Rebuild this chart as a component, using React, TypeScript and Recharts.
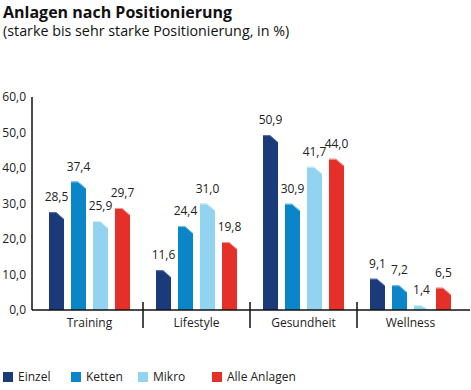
import React from 'react';
import { BarChart, Bar, XAxis, YAxis, LabelList } from 'recharts';

const categories = ['Training', 'Lifestyle', 'Gesundheit', 'Wellness'];
const einzel = [28.5, 11.6, 50.9, 9.1];
const ketten = [37.4, 24.4, 30.9, 7.2];
const mikro = [25.9, 31.0, 41.7, 1.4];
const alleAnlagen = [29.7, 19.8, 44.0, 6.5];
const yTicks = [0, 10, 20, 30, 40, 50, 60];

const series = [
  { key: 'Einzel', values: einzel, color: '#1b3a7a', light: '#5a74a8' },
  { key: 'Ketten', values: ketten, color: '#0a86c8', light: '#6cc0ec' },
  { key: 'Mikro', values: mikro, color: '#92d3f1', light: '#d2eefb' },
  { key: 'Alle Anlagen', values: alleAnlagen, color: '#e5302a', light: '#f49a92' },
];

const data = categories.map((name, i) => {
  const row: Record<string, string | number> = { name };
  series.forEach((s) => {
    row[s.key] = s.values[i];
  });
  return row;
});

const FONT = '"Open Sans", "Noto Sans", sans-serif';
const fmt = (v: number) => v.toFixed(1).replace('.', ',');
const BAND = 107;
const legendX = [3, 71, 138, 212];

const ChamferBar = (props: any) => {
  const { x, y, width, height, fill, light } = props;
  if (!height || height <= 0) return null;
  const c = Math.min(7, height);
  const fw = Math.min(7, width);
  const d = `M${x},${y + height} L${x},${y} L${x + fw},${y} L${x + width},${y + c} L${x + width},${y + height} Z`;
  return (
    <g>
      <path d={d} fill={fill} />
      <polyline
        points={`${x},${y + 0.5} ${x + fw},${y + 0.5} ${x + width - 0.5},${y + c}`}
        fill="none"
        stroke={light}
        strokeWidth={1}
      />
    </g>
  );
};

const CategoryTick = (props: any) => {
  const { x, y, payload, index } = props;
  return (
    <g>
      <text x={x} y={y} dy="0.71em" textAnchor="middle" fill="#222" fontSize={12} fontFamily={FONT}>
        {payload.value}
      </text>
      {index > 0 && (
        <line x1={x - BAND / 2} x2={x - BAND / 2} y1={y - 16} y2={y + 10} stroke="#111" strokeWidth={1.5} />
      )}
    </g>
  );
};

export default function App() {
  return (
    <div style={{ position: 'absolute', left: 0, top: 0, width: 471, height: 390, background: '#fff', fontFamily: FONT }}>
      <div style={{ position: 'absolute', left: 3, top: 1, fontSize: 16, fontWeight: 700, color: '#111', whiteSpace: 'nowrap' }}>
        Anlagen nach Positionierung
      </div>
      <div style={{ position: 'absolute', left: 3, top: 21, fontSize: 14.3, color: '#111', whiteSpace: 'nowrap' }}>
        (starke bis sehr starke Positionierung, in %)
      </div>
      <div style={{ position: 'absolute', left: 0, top: 0 }}>
        <BarChart
          width={471}
          height={390}
          data={data}
          margin={{ top: 97, right: 1, left: 0, bottom: 50 }}
          barSize={15}
          barGap={7}
        >
          <XAxis
            dataKey="name"
            height={30}
            padding={{ left: 4, right: 6 }}
            axisLine={{ stroke: '#111', strokeWidth: 1.5 }}
            tickLine={false}
            tick={<CategoryTick />}
            interval={0}
          />
          <YAxis
            yAxisId="ticks"
            width={32}
            domain={[0, 60]}
            allowDataOverflow
            ticks={yTicks}
            tickFormatter={fmt}
            tickLine={false}
            tickMargin={0}
            axisLine={{ stroke: '#111', strokeWidth: 1.5 }}
            tick={{ fill: '#222', fontSize: 12, fontFamily: FONT }}
          />
          <YAxis yAxisId="bars" orientation="right" hide width={0} domain={[0, 62]} />
          {series.map((s) => (
            <Bar
              key={s.key}
              yAxisId="bars"
              dataKey={s.key}
              fill={s.color}
              isAnimationActive={false}
              shape={(p: any) => <ChamferBar {...p} light={s.light} />}
            >
              <LabelList
                dataKey={s.key}
                position="top"
                offset={11}
                formatter={(v: any) => fmt(Number(v))}
                style={{ fill: '#222', fontSize: 12, fontFamily: FONT }}
              />
            </Bar>
          ))}
        </BarChart>
      </div>
      {series.map((s, i) => (
        <div
          key={s.key}
          style={{ position: 'absolute', left: legendX[i], top: 368, display: 'flex', alignItems: 'center', fontSize: 12, color: '#222' }}
        >
          <span style={{ width: 10, height: 10, background: s.color, display: 'inline-block', marginRight: 5 }} />
          <span>{s.key}</span>
        </div>
      ))}
    </div>
  );
}
